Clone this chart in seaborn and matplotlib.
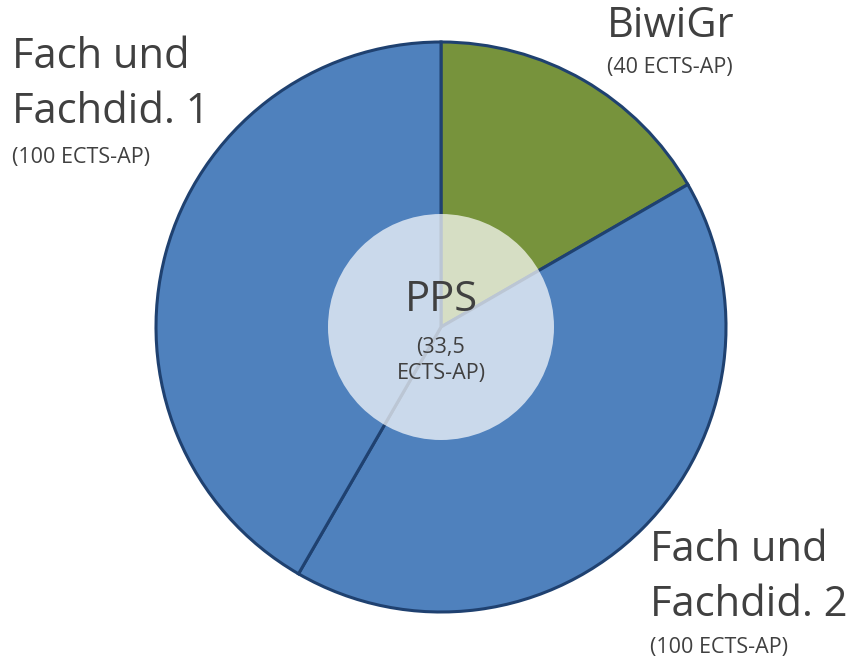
import matplotlib
matplotlib.use("Agg")
import matplotlib.pyplot as plt
import seaborn as sns

# data
labels = ["BiwiGr", "Fach und\nFachdid. 2", "Fach und\nFachdid. 1"]
ects = [40, 100, 100]
sub_labels = ["(40 ECTS-AP)", "(100 ECTS-AP)", "(100 ECTS-AP)"]
center_label = "PPS"
center_sub = "(33,5\nECTS-AP)"
colors = ["#77933C", "#4F81BD", "#4F81BD"]

sns.set_theme(style="white")
plt.rcParams['font.family'] = ['Open Sans', 'DejaVu Sans']
text_color = "#404040"

H = 661
fig = plt.figure(figsize=(8.5, 6.61), dpi=100)
ax = fig.add_axes([0, 0, 1, 1])

cx, cy, r = 441, H - 327, 285
ax.pie(ects, colors=colors, startangle=90, counterclock=False,
       center=(cx, cy), radius=r, frame=True,
       wedgeprops=dict(edgecolor="#1F4170", linewidth=2.2))
ax.set_xlim(0, 850)
ax.set_ylim(0, H)
ax.set_aspect("equal")
ax.axis("off")

# durchscheinender innerer Kreis
ax.add_patch(plt.Circle((cx, cy), 113, facecolor="white", alpha=0.7,
                        edgecolor="none", zorder=5))

big = 30
small = 15.5
# (x, Mitte erste Zeile, Mitte Unterzeile) in Pixeln von oben
pos = [(607, 26, 68), (650, 550, 648), (12, 57, 157)]
for lab, sub, (x, y, ys) in zip(labels, sub_labels, pos):
    for i, line in enumerate(lab.split("\n")):
        ax.text(x, H - y - i * 55, line, fontsize=big, color=text_color,
                ha="left", va="center")
    ax.text(x, H - ys, sub, fontsize=small, color=text_color, ha="left", va="center")

ax.text(cx, H - 300, center_label, fontsize=big, color=text_color,
        ha="center", va="center", zorder=6)
for i, line in enumerate(center_sub.split("\n")):
    ax.text(cx, H - 347 - i * 26, line, fontsize=small, color=text_color,
            ha="center", va="center", zorder=6)

fig.savefig("out.png", dpi=100)
